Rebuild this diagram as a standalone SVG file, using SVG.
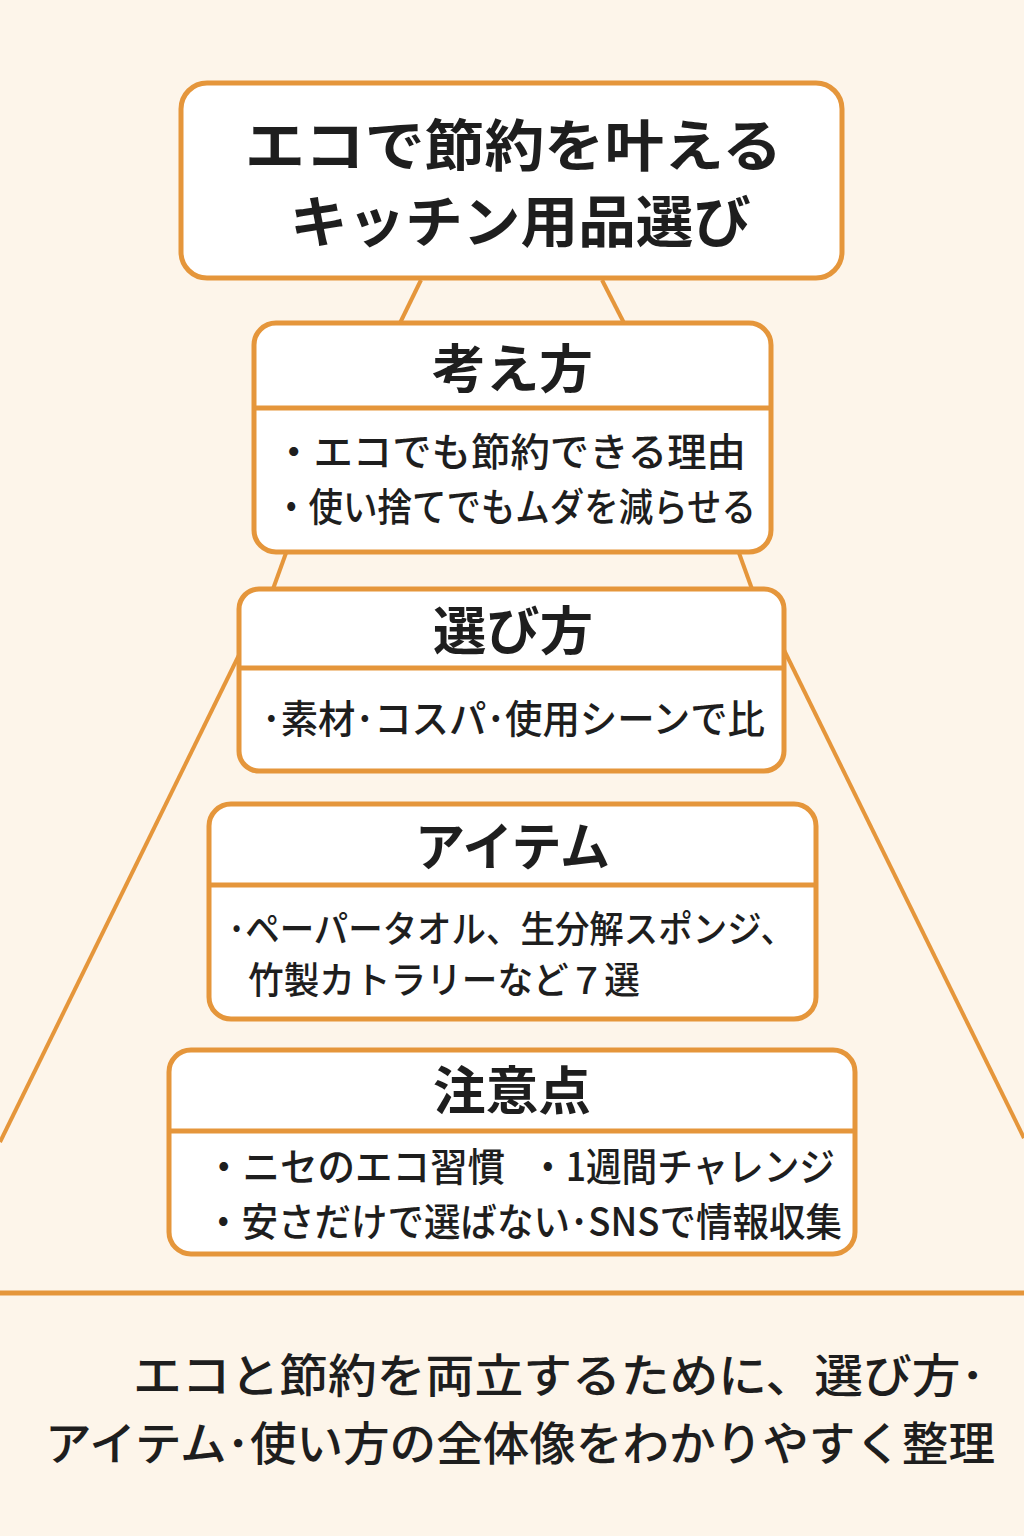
<svg xmlns="http://www.w3.org/2000/svg" width="1024" height="1536" viewBox="0 0 1024 1536">
  <style>
    .box { fill: #FFFFFF; stroke: #E5963B; stroke-width: 5; }
    .div { stroke: #E5963B; stroke-width: 5; fill: none; }
    .con { stroke: #E5963B; stroke-width: 4; fill: none; }
    text { font-family: "Noto Sans CJK JP", "Noto Sans", sans-serif; fill: #1E1E1E; }
    .title { font-size: 56px; font-weight: 700; }
    .head { font-size: 52px; font-weight: 700; }
    .body { font-size: 39px; font-weight: 500; }
    .body2 { font-size: 37px; font-weight: 500; }
    .foot { font-size: 46px; font-weight: 500; }
  </style>
  <rect x="0" y="0" width="1024" height="1536" fill="#FDF5EA"/>

  <g id="connectors">
    <line class="con" x1="421" y1="280" x2="400" y2="323"/>
    <line class="con" x1="602" y1="280" x2="624" y2="323"/>
    <line class="con" x1="286" y1="553" x2="273" y2="589"/>
    <line class="con" x1="739" y1="553" x2="752" y2="589"/>
    <line class="con" x1="240" y1="653" x2="0" y2="1142"/>
    <line class="con" x1="784" y1="650" x2="1024" y2="1138"/>
    <line class="con" x1="0" y1="1293" x2="1024" y2="1293" style="stroke-width:5"/>
  </g>

  <g id="title">
    <rect class="box" x="181" y="83" width="661" height="195" rx="26"/>
    <text class="title" x="245" y="166" textLength="537" lengthAdjust="spacingAndGlyphs">エコで節約を叶える</text>
    <text class="title" x="290" y="242" textLength="461" lengthAdjust="spacingAndGlyphs">キッチン用品選び</text>
  </g>

  <g id="kangaekata">
    <rect class="box" x="254" y="323" width="517" height="229" rx="22"/>
    <line class="div" x1="254" y1="408" x2="771" y2="408"/>
    <text class="head" x="432" y="388" textLength="161" lengthAdjust="spacingAndGlyphs">考え方</text>
    <text class="body" x="274" y="466" textLength="472" lengthAdjust="spacingAndGlyphs">・エコでも節約できる理由</text>
    <text class="body" x="274" y="521" textLength="482" lengthAdjust="spacingAndGlyphs">・使い捨てでもムダを減らせる</text>
  </g>

  <g id="erabikata">
    <rect class="box" x="239" y="589" width="545" height="182" rx="20"/>
    <line class="div" x1="239" y1="668" x2="784" y2="668"/>
    <text class="head" x="433" y="650" textLength="160" lengthAdjust="spacingAndGlyphs">選び方</text>
    <text class="body" x="262" y="733" textLength="503" lengthAdjust="spacingAndGlyphs">･素材･コスパ･使用シーンで比</text>
  </g>

  <g id="item">
    <rect class="box" x="209" y="804" width="607" height="215" rx="22"/>
    <line class="div" x1="209" y1="885" x2="816" y2="885"/>
    <text class="head" x="415" y="866" textLength="195" lengthAdjust="spacingAndGlyphs">アイテム</text>
    <text class="body2" x="228" y="943" textLength="567" lengthAdjust="spacingAndGlyphs">･ペーパータオル、生分解スポンジ、</text>
    <text class="body2" x="248" y="994" textLength="392" lengthAdjust="spacingAndGlyphs">竹製カトラリーなど７選</text>
  </g>

  <g id="chuiten">
    <rect class="box" x="169" y="1050" width="686" height="204" rx="22"/>
    <line class="div" x1="169" y1="1131" x2="855" y2="1131"/>
    <text class="head" x="433" y="1110" textLength="158" lengthAdjust="spacingAndGlyphs">注意点</text>
    <text class="body" x="205" y="1181" textLength="300" lengthAdjust="spacingAndGlyphs">・ニセのエコ習慣</text>
    <text class="body" x="530" y="1181" textLength="305" lengthAdjust="spacingAndGlyphs">・1週間チャレンジ</text>
    <text class="body" x="205" y="1236" textLength="637" lengthAdjust="spacingAndGlyphs">・安さだけで選ばない･SNSで情報収集</text>
  </g>

  <g id="summary">
    <text class="foot" x="133" y="1392" textLength="852" lengthAdjust="spacingAndGlyphs">エコと節約を両立するために、選び方･</text>
    <text class="foot" x="45" y="1460" textLength="950" lengthAdjust="spacingAndGlyphs">アイテム･使い方の全体像をわかりやすく整理</text>
  </g>
</svg>
